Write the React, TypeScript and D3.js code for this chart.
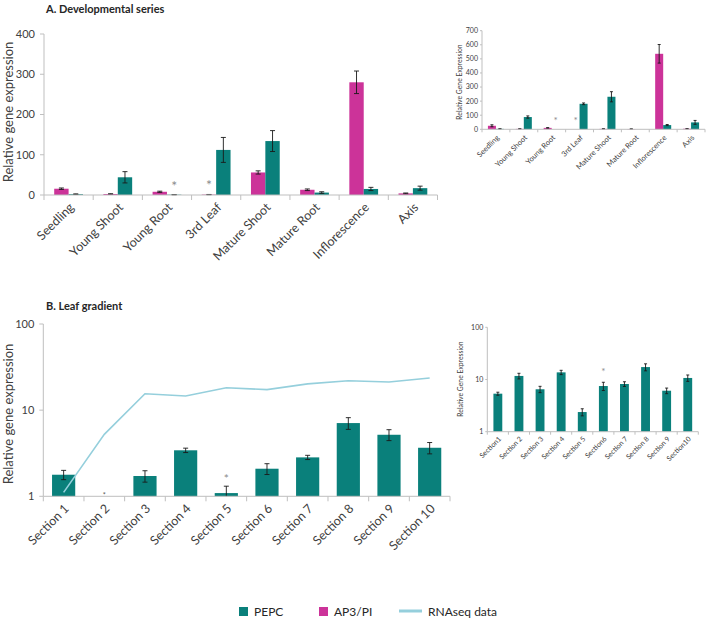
import React from 'react';
import * as d3 from 'd3';

const FONT = "Lato, 'Open Sans', 'DejaVu Sans', sans-serif";
const TEAL = '#0a807b';
const MAGENTA = '#cc3399';
const RNA_COLOR = '#95cfdc';
const AXIS_COLOR = '#bfbfbf';
const TEXT_COLOR = '#404040';
const STAR_COLOR = '#8c8c8c';

// ---------- Panel A: developmental series ----------
const devCategories = ['Seedling', 'Young Shoot', 'Young Root', '3rd Leaf', 'Mature Shoot', 'Mature Root', 'Inflorescence', 'Axis'];
const devSeries = ['AP3/PI', 'PEPC'];
const devAP3 = [15.6, 2.5, 8, 1, 56, 13, 280, 4];
const devAP3Err = [1.8, 0.5, 1.5, 0.3, 4, 2, 28, 1];
const devPEPC = [2, 44, 0.8, 112, 134, 6, 15, 17];
const devPEPCErr = [0.8, 14, 0.3, 31, 26, 2, 4, 5];
const devTicks = [0, 100, 200, 300, 400];
const devStars = [['Young Root', 'PEPC'], ['3rd Leaf', 'AP3/PI']];

// ---------- Inset A ----------
const insetDevAP3 = [25, 3, 10, 0, 3, 2, 536, 4];
const insetDevAP3Err = [7, 0.5, 2, 0, 0.5, 0.5, 66, 1];
const insetDevPEPC = [3, 87, 0, 181, 231, 0, 30, 49];
const insetDevPEPCErr = [1, 8, 0, 6, 36, 0, 4, 14];
const insetDevTicks = [0, 100, 200, 300, 400, 500, 600, 700];
const insetDevStars = [['Young Root', 'PEPC'], ['3rd Leaf', 'AP3/PI']];

// ---------- Panel B: leaf gradient ----------
const gradSections = ['Section 1', 'Section 2', 'Section 3', 'Section 4', 'Section 5', 'Section 6', 'Section 7', 'Section 8', 'Section 9', 'Section 10'];
const gradPEPC = [1.78, 0, 1.72, 3.42, 1.09, 2.09, 2.83, 7.08, 5.18, 3.66];
const gradPEPCErr = [0.22, 0, 0.26, 0.2, 0.22, 0.3, 0.16, 1.1, 0.75, 0.55];
const gradRNAseq = [1.11, 5.24, 15.5, 14.6, 18.2, 17.3, 20.2, 21.9, 21.2, 23.6];
const gradTicks = [1, 10, 100];
const gradStars = ['Section 2', 'Section 5'];

// ---------- Inset B ----------
const insetSections = ['Section1', 'Section 2', 'Section 3', 'Section 4', 'Section 5', 'Section6', 'Section 7', 'Section 8', 'Section 9', 'Section10'];
const insetGradPEPC = [5.35, 11.7, 6.5, 13.7, 2.38, 7.5, 8.2, 17.3, 6.1, 10.7];
const insetGradErr = [0.36, 1.45, 0.9, 1.3, 0.37, 1.35, 0.85, 2.65, 0.75, 1.5];
const insetGradStars = ['Section6'];

const legendItems = [
  { label: 'PEPC', kind: 'rect', color: TEAL },
  { label: 'AP3/PI', kind: 'rect', color: MAGENTA },
  { label: 'RNAseq data', kind: 'line', color: RNA_COLOR },
];

type DevProps = {
  left: number; right: number; top: number; bottom: number; max: number; ticks: number[];
  ap3: number[]; ap3Err: number[]; pepc: number[]; pepcErr: number[]; stars: string[][];
  tickFont: number; catFont: number; tickLen: number; capW: number; groupPad: number;
  labelDx: number; labelDy: number; starFont: number; starOffset: number; tickLabelGap: number;
  xTickLen: number;
};

function DevPanel(p: DevProps) {
  const x0 = d3.scaleBand().domain(devCategories).range([p.left, p.right]).padding(0);
  const x1 = d3.scaleBand().domain(devSeries).range([0, x0.bandwidth()]).paddingInner(0).paddingOuter(p.groupPad);
  const y = d3.scaleLinear().domain([0, p.max]).range([p.bottom, p.top]);
  const seriesData: Record<string, { v: number[]; e: number[]; c: string }> = {
    'AP3/PI': { v: p.ap3, e: p.ap3Err, c: MAGENTA },
    'PEPC': { v: p.pepc, e: p.pepcErr, c: TEAL },
  };
  const boundaries = devCategories.map((c) => x0(c)!).concat([p.right]);
  return (
    <g>
      {p.ticks.map((t) => (
        <g key={t}>
          <line x1={p.left - p.tickLen} x2={p.left} y1={y(t)} y2={y(t)} stroke={AXIS_COLOR} />
          <text x={p.left - p.tickLabelGap} y={y(t)} dy="0.35em" textAnchor="end" fontSize={p.tickFont} fill={TEXT_COLOR} fontFamily={FONT}>{t}</text>
        </g>
      ))}
      {devSeries.map((s) =>
        devCategories.map((c, i) => {
          const d = seriesData[s];
          const v = d.v[i];
          if (!v) return null;
          const bx = x0(c)! + x1(s)!;
          const cx = bx + x1.bandwidth() / 2;
          const e = d.e[i];
          return (
            <g key={s + c}>
              <rect x={bx} y={y(v)} width={x1.bandwidth()} height={p.bottom - y(v)} fill={d.c} />
              {e > 0 && (
                <g stroke="#1a1a1a" strokeWidth={0.9}>
                  <line x1={cx} x2={cx} y1={y(v + e)} y2={y(Math.max(0, v - e))} />
                  <line x1={cx - p.capW / 2} x2={cx + p.capW / 2} y1={y(v + e)} y2={y(v + e)} />
                  <line x1={cx - p.capW / 2} x2={cx + p.capW / 2} y1={y(Math.max(0, v - e))} y2={y(Math.max(0, v - e))} />
                </g>
              )}
            </g>
          );
        })
      )}
      {p.stars.map(([c, s]) => {
        const i = devCategories.indexOf(c);
        const d = seriesData[s];
        const cx = x0(c)! + x1(s)! + x1.bandwidth() / 2;
        return (
          <text key={c + s} x={cx} y={y(d.v[i] + d.e[i]) - p.starOffset} textAnchor="middle" fontSize={p.starFont} fill={STAR_COLOR} fontFamily={FONT}>*</text>
        );
      })}
      <line x1={p.left} x2={p.left} y1={p.top} y2={p.bottom} stroke={AXIS_COLOR} />
      <line x1={p.left} x2={p.right} y1={p.bottom} y2={p.bottom} stroke={AXIS_COLOR} />
      {boundaries.map((b, i) => (
        <line key={i} x1={b} x2={b} y1={p.bottom} y2={p.bottom + p.xTickLen} stroke={AXIS_COLOR} />
      ))}
      {devCategories.map((c) => {
        const cx = x0(c)! + x0.bandwidth() / 2;
        return (
          <text key={c} transform={`translate(${cx + p.labelDx},${p.bottom + p.labelDy}) rotate(-45)`} textAnchor="end" dy="0.35em" fontSize={p.catFont} fill={TEXT_COLOR} fontFamily={FONT}>{c}</text>
        );
      })}
    </g>
  );
}

type GradProps = {
  left: number; right: number; top: number; bottom: number; ticks: number[];
  cats: string[]; vals: number[]; errs: number[]; stars: string[]; line?: number[];
  barFrac: number; tickFont: number; catFont: number; tickLen: number; capW: number;
  labelDx: number; labelDy: number; starFont: number; starOffset: number; tickLabelGap: number;
  xTickLen: number;
};

function GradPanel(p: GradProps) {
  const x = d3.scaleBand().domain(p.cats).range([p.left, p.right]).padding(0);
  const y = d3.scaleLog().domain([1, 100]).range([p.bottom, p.top]).clamp(true);
  const bw = x.bandwidth() * p.barFrac;
  const boundaries = p.cats.map((c) => x(c)!).concat([p.right]);
  const lineGen = d3.line<number>().x((_, i) => x(p.cats[i])! + x.bandwidth() / 2).y((d) => y(d));
  return (
    <g>
      {p.ticks.map((t) => (
        <g key={t}>
          <line x1={p.left - p.tickLen} x2={p.left} y1={y(t)} y2={y(t)} stroke={AXIS_COLOR} />
          <text x={p.left - p.tickLabelGap} y={y(t)} dy="0.35em" textAnchor="end" fontSize={p.tickFont} fill={TEXT_COLOR} fontFamily={FONT}>{t}</text>
        </g>
      ))}
      {p.cats.map((c, i) => {
        const v = p.vals[i];
        if (!v) return null;
        const cx = x(c)! + x.bandwidth() / 2;
        const e = p.errs[i];
        const lo = Math.max(1, v - e);
        return (
          <g key={c}>
            <rect x={cx - bw / 2} y={y(v)} width={bw} height={p.bottom - y(v)} fill={TEAL} />
            <g stroke="#1a1a1a" strokeWidth={0.9}>
              <line x1={cx} x2={cx} y1={y(v + e)} y2={y(lo)} />
              <line x1={cx - p.capW / 2} x2={cx + p.capW / 2} y1={y(v + e)} y2={y(v + e)} />
              {v - e > 1 && <line x1={cx - p.capW / 2} x2={cx + p.capW / 2} y1={y(lo)} y2={y(lo)} />}
            </g>
          </g>
        );
      })}
      {p.line && <path d={lineGen(p.line) || ''} fill="none" stroke={RNA_COLOR} strokeWidth={1.6} />}
      {p.stars.map((c) => {
        const i = p.cats.indexOf(c);
        const cx = x(c)! + x.bandwidth() / 2;
        const v = p.vals[i];
        if (!v) {
          return <text key={c} x={cx} y={p.bottom + 2} textAnchor="middle" fontSize={p.starFont * 0.6} fill="#555" fontFamily={FONT}>*</text>;
        }
        return <text key={c} x={cx} y={y(v + p.errs[i]) - p.starOffset} textAnchor="middle" fontSize={p.starFont} fill={STAR_COLOR} fontFamily={FONT}>*</text>;
      })}
      <line x1={p.left} x2={p.left} y1={p.top} y2={p.bottom} stroke={AXIS_COLOR} />
      <line x1={p.left} x2={p.right} y1={p.bottom} y2={p.bottom} stroke={AXIS_COLOR} />
      {boundaries.map((b, i) => (
        <line key={i} x1={b} x2={b} y1={p.bottom} y2={p.bottom + p.xTickLen} stroke={AXIS_COLOR} />
      ))}
      {p.cats.map((c) => {
        const cx = x(c)! + x.bandwidth() / 2;
        return (
          <text key={c} transform={`translate(${cx + p.labelDx},${p.bottom + p.labelDy}) rotate(-45)`} textAnchor="end" dy="0.35em" fontSize={p.catFont} fill={TEXT_COLOR} fontFamily={FONT}>{c}</text>
        );
      })}
    </g>
  );
}

function YTitle({ x, y, size, text }: { x: number; y: number; size: number; text: string }) {
  return (
    <text transform={`translate(${x},${y}) rotate(-90)`} textAnchor="middle" fontSize={size} fill={TEXT_COLOR} fontFamily={FONT}>{text}</text>
  );
}

export default function App() {
  return (
    <svg width={706} height={620} style={{ position: 'absolute', left: 0, top: 0, background: '#fff' }}>
      <rect width={706} height={620} fill="#fff" />
      <text x={46} y={13} fontSize={11} fontWeight="bold" fill="#262626" fontFamily={FONT}>A. Developmental series</text>
      <YTitle x={13} y={112} size={13} text="Relative gene expression" />
      <DevPanel left={44} right={437.5} top={34} bottom={195} max={400} ticks={devTicks}
        ap3={devAP3} ap3Err={devAP3Err} pepc={devPEPC} pepcErr={devPEPCErr} stars={devStars}
        tickFont={11} catFont={12.5} tickLen={4} capW={5} groupPad={0.71}
        labelDx={3} labelDy={10} starFont={14} starOffset={4} tickLabelGap={9} xTickLen={5} />

      <YTitle x={462} y={82} size={6.8} text="Relative Gene Expression" />
      <DevPanel left={482} right={705} top={30.7} bottom={129.3} max={700} ticks={insetDevTicks}
        ap3={insetDevAP3} ap3Err={insetDevAP3Err} pepc={insetDevPEPC} pepcErr={insetDevPEPCErr} stars={insetDevStars}
        tickFont={7} catFont={7.5} tickLen={2} capW={3} groupPad={0.74}
        labelDx={2} labelDy={7} starFont={10} starOffset={5} tickLabelGap={4} xTickLen={3} />

      <text x={46} y={310} fontSize={11} fontWeight="bold" fill="#262626" fontFamily={FONT}>B. Leaf gradient</text>
      <YTitle x={13} y={414} size={13} text="Relative gene expression" />
      <GradPanel left={43.3} right={450} top={324} bottom={496.3} ticks={gradTicks}
        cats={gradSections} vals={gradPEPC} errs={gradPEPCErr} stars={gradStars} line={gradRNAseq}
        barFrac={0.57} tickFont={11} catFont={12.5} tickLen={4} capW={5}
        labelDx={3} labelDy={10} starFont={12} starOffset={3} tickLabelGap={9} xTickLen={5} />

      <YTitle x={463} y={379} size={6.8} text="Relative Gene Expression" />
      <GradPanel left={487.3} right={698.3} top={327.3} bottom={431.7} ticks={gradTicks}
        cats={insetSections} vals={insetGradPEPC} errs={insetGradErr} stars={insetGradStars}
        barFrac={0.42} tickFont={7} catFont={7} tickLen={2} capW={3}
        labelDx={2} labelDy={6} starFont={10} starOffset={7} tickLabelGap={4} xTickLen={3} />

      {legendItems.map((it, i) => {
        const lx = [239, 319, 399][i];
        return (
          <g key={it.label}>
            {it.kind === 'rect'
              ? <rect x={lx} y={607} width={9} height={9} fill={it.color} />
              : <line x1={lx} x2={lx + 23} y1={611} y2={611} stroke={it.color} strokeWidth={3} />}
            <text x={it.kind === 'rect' ? lx + 15 : lx + 29} y={615.5} fontSize={12} fill="#262626" fontFamily={FONT}>{it.label}</text>
          </g>
        );
      })}
    </svg>
  );
}
